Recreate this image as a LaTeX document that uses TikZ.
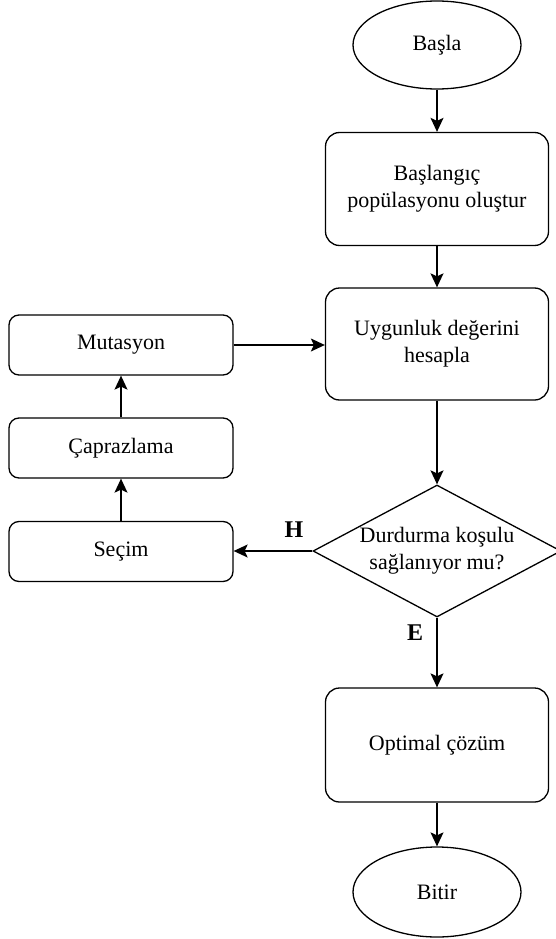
\documentclass[tikz,border=0pt]{standalone}
\usepackage{fontspec}
\setmainfont{Liberation Serif}
\usetikzlibrary{shapes.geometric,arrows.meta}
\begin{document}
\begin{tikzpicture}[x=1pt,y=-1pt,
  every node/.style={font=\fontsize{22}{27}\selectfont, align=center, inner sep=0pt, line width=1.3pt},
  bigbox/.style={draw, rectangle, rounded corners=14pt, minimum width=223pt, minimum height=113pt},
  smallbox/.style={draw, rectangle, rounded corners=10pt, minimum width=224pt, minimum height=60pt},
  term/.style={draw, ellipse, minimum width=168pt, minimum height=88pt},
  decision/.style={draw, diamond, shape aspect=1.88, minimum width=248pt, minimum height=132pt},
  flow/.style={line width=1.3pt, -{Stealth[length=14pt,width=13pt,inset=3pt]}},
  lbl/.style={font=\fontsize{24}{28}\selectfont\bfseries}]
\useasboundingbox (0,0) rectangle (556,939);

\node[term] (start) at (437,45) {Başla};
\node[bigbox] (init) at (437,189) {Başlangıç\\popülasyonu oluştur};
\node[bigbox, minimum height=112pt] (fit) at (437,344) {Uygunluk değerini\\hesapla};
\node[decision] (stop) at (437,551) {Durdurma koşulu\\sağlanıyor mu?};
\node[bigbox, minimum height=114pt] (opt) at (437,745) {Optimal çözüm};
\node[term, minimum height=90pt] (end) at (437,892) {Bitir};

\node[smallbox] (mut) at (121,345) {Mutasyon};
\node[smallbox] (cross) at (121,448) {Çaprazlama};
\node[smallbox] (sel) at (121,551.5) {Seçim};

\draw[flow] (start) -- (init);
\draw[flow] (init) -- (fit);
\draw[flow] (fit) -- (stop);
\draw[flow] (stop) -- (opt);
\draw[flow] (opt) -- (end);
\draw[flow] (stop.west) -- (sel.east |- stop.west);
\draw[flow] (sel) -- (cross);
\draw[flow] (cross) -- (mut);
\draw[flow] (mut.east) -- (fit.west |- mut.east);

\node[lbl] (h) at (294,530) {H};
\node[lbl] (e) at (415,633) {E};
\end{tikzpicture}
\end{document}
